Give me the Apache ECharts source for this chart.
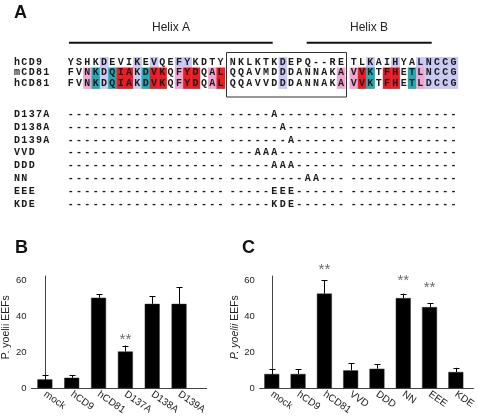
<!DOCTYPE html>
<html><head><meta charset="utf-8">
<script src="https://cdn.jsdelivr.net/npm/echarts@6/dist/echarts.min.js"></script>
<style>html,body{margin:0;padding:0;background:#fff}#c{width:478px;height:417px}</style>
</head><body><div id="c"></div>
<script>
// ---------- Panel A data ----------
const helixLabels = ['Helix A', 'Helix B'];
const seqNames = ['hCD9', 'mCD81', 'hCD81'];
const hCD9Seq  = ['YSHKDEVIKEVQEFYKDTY', 'NKLKTKDEPQ--RE', 'TLKAIHYALNCCG'];
const mCD81Seq = ['FVNKDQIAKDVKQFYDQAL', 'QQAVMDDDANNAKA', 'VVKTFHETLNCCG'];
const hCD81Seq = ['FVNKDQIAKDVKQFYDQAL', 'QQAVVDDDANNAKA', 'VVKTFHETLDCCG'];
// shading codes: l = lavender, p = pink, t = teal, r = red, . = none
const hCD9Shade  = ['....l...l.l..ll....', '......l.......', '..l..l..lllll'];
const mCD81Shade = ['..ptltrrltrr.prr.pr', '......l......p', 'prt.rr.tpllll'];
const hCD81Shade = ['..ptltrrltrr.prr.pr', '......l......p', 'prt.rr.tpllll'];
const mutantNames = ['D137A', 'D138A', 'D139A', 'VVD', 'DDD', 'NN', 'EEE', 'KDE'];
const mutantBlock1 = '-------------------';
const mutantBlock2 = ['-----A--------', '------A-------', '-------A------', '---AAA--------',
                      '-----AAA------', '---------AA---', '-----EEE------', '-----KDE------'];
const mutantBlock3 = '-------------';

// ---------- Panel B data ----------
const catsB = ['mock', 'hCD9', 'hCD81', 'D137A', 'D138A', 'D139A'];
const meanB = [5.0, 5.9, 50.4, 20.5, 47.0, 47.0];
const errB  = [2.3, 1.3, 2.1, 3.3, 4.1, 9.3];
const starCatB = [3];
const starYB   = [27.0];

// ---------- Panel C data ----------
const catsC = ['mock', 'hCD9', 'hCD81', 'VVD', 'DDD', 'NN', 'EEE', 'KDE'];
const meanC = [8.0, 8.0, 52.7, 10.0, 10.9, 50.2, 45.2, 9.1];
const errC  = [2.6, 2.6, 7.3, 4.1, 2.5, 2.5, 2.3, 2.3];
const starCatC = [2, 5, 6];
const starYC   = [65.7, 59.8, 55.9];

const yTicks = [0, 20, 40, 60];

// ---------- Layout ----------
const PITCH = 8.33, NAME_PITCH = 7.35, NAME_X = 13.3;
const blockX = [66.5, 228.5, 349.5];
const seqRowY = [62.25, 72.75, 83.25], ROW_H = 10.5;
const mutRowY0 = 114.5, mutRowStep = 12.8;
const shadeColor = {l: '#c9c9f3', p: '#f2a6d2', t: '#22aab4', r: '#ec1c24'};
const MONO = 'bold 10px "Liberation Mono", "DejaVu Sans Mono", monospace';
const SANS = '"Liberation Sans", Arial, sans-serif';

const g = [];
function addChars(str, x0, pitch, yc) {
  for (let i = 0; i < str.length; i++) {
    g.push({type: 'text', x: x0 + pitch * (i + 0.5), y: yc, z: 3,
      style: {text: str[i], font: MONO, fill: '#1a1a1a', align: 'center', verticalAlign: 'middle'}});
  }
}
function addSeqRow(name, blocks, shades, yc) {
  addChars(name, NAME_X, NAME_PITCH, yc);
  blocks.forEach((s, b) => {
    for (let i = 0; i < s.length; i++) {
      const c = shades[b][i];
      if (c !== '.') {
        g.push({type: 'rect', z: 1, shape: {x: blockX[b] + PITCH * i, y: yc - ROW_H / 2, width: PITCH + 0.4, height: ROW_H + 0.4},
          style: {fill: shadeColor[c]}});
      }
    }
    addChars(s, blockX[b], PITCH, yc);
  });
}
addSeqRow(seqNames[0], hCD9Seq, hCD9Shade, seqRowY[0]);
addSeqRow(seqNames[1], mCD81Seq, mCD81Shade, seqRowY[1]);
addSeqRow(seqNames[2], hCD81Seq, hCD81Shade, seqRowY[2]);
mutantNames.forEach((n, k) => {
  const yc = mutRowY0 + mutRowStep * k;
  addChars(n, NAME_X, NAME_PITCH, yc);
  addChars(mutantBlock1, blockX[0], PITCH, yc);
  addChars(mutantBlock2[k], blockX[1], PITCH, yc);
  addChars(mutantBlock3, blockX[2], PITCH, yc);
});
// box around loop
g.push({type: 'rect', z: 4, shape: {x: 226.5, y: 52.5, width: 120, height: 44.5}, style: {fill: 'none', stroke: '#333', lineWidth: 1}});
// helix bars & labels
g.push({type: 'line', shape: {x1: 69, y1: 42.7, x2: 272.7, y2: 42.7}, style: {stroke: '#111', lineWidth: 2}});
g.push({type: 'line', shape: {x1: 306.7, y1: 42.7, x2: 431.7, y2: 42.7}, style: {stroke: '#111', lineWidth: 2}});
g.push({type: 'text', x: 171, y: 28, style: {text: helixLabels[0], font: '12px ' + SANS, fill: '#222', align: 'center', verticalAlign: 'middle'}});
g.push({type: 'text', x: 369, y: 28, style: {text: helixLabels[1], font: '12px ' + SANS, fill: '#222', align: 'center', verticalAlign: 'middle'}});
// panel letters
[['A', 14, 4], ['B', 15, 239], ['C', 242, 239]].forEach(([t, x, y]) => {
  g.push({type: 'text', x: x, y: y, style: {text: t, font: 'bold 18px ' + SANS, fill: '#111', align: 'left', verticalAlign: 'top'}});
});

// ---------- Bar panels ----------
function xAxisFor(gi, cats, min, max) {
  return {type: 'value', gridIndex: gi, min: min, max: max,
    axisLine: {show: true, onZero: false, lineStyle: {color: '#444', width: 1}},
    axisTick: {show: false}, splitLine: {show: false},
    axisLabel: {customValues: cats.map((c, i) => i), formatter: v => cats[Math.round(v)] || '',
      rotate: -35, fontSize: 10, color: '#222', margin: 5, fontFamily: SANS}};
}
function yAxisFor(gi, nameRich) {
  return {type: 'value', gridIndex: gi, min: 0, max: 62.5,
    axisLine: {show: true, lineStyle: {color: '#444', width: 1}},
    axisTick: {show: false}, splitLine: {show: false},
    axisLabel: {customValues: yTicks, fontSize: 9.5, color: '#222', margin: 5, fontFamily: SANS},
    name: nameRich, nameLocation: 'middle', nameGap: 17,
    nameTextStyle: {fontSize: 10.5, color: '#222', fontFamily: SANS, padding: [0, 0, 0, 10],
      rich: {i: {fontStyle: 'italic', fontSize: 10.5, color: '#222', fontFamily: SANS}}}};
}
function errRender(params, api) {
  const x = api.value(0), m = api.value(1), e = api.value(2);
  const p0 = api.coord([x, m]), p1 = api.coord([x, m + e]);
  const xc = Math.round(p0[0]) + 0.5;
  return {type: 'group', children: [
    {type: 'line', shape: {x1: xc, y1: p0[1], x2: xc, y2: p1[1]}, style: {stroke: '#000', lineWidth: 1}},
    {type: 'line', shape: {x1: xc - 3, y1: Math.round(p1[1]) + 0.5, x2: xc + 3, y2: Math.round(p1[1]) + 0.5}, style: {stroke: '#000', lineWidth: 1}}
  ]};
}
function seriesFor(gi, mean, err, starCat, starY) {
  return [
    {type: 'bar', xAxisIndex: gi, yAxisIndex: gi, barWidth: 15, data: mean.map((v, i) => [i, v]),
      itemStyle: {color: '#000', borderColor: '#333', borderWidth: 0.5}, z: 2},
    {type: 'custom', xAxisIndex: gi, yAxisIndex: gi, renderItem: errRender, encode: {x: 0, y: 1},
      data: mean.map((v, i) => [i, v, err[i]]), z: 3},
    {type: 'scatter', xAxisIndex: gi, yAxisIndex: gi, clip: false, symbolSize: 1,
      itemStyle: {color: 'rgba(0,0,0,0)'}, data: starCat.map((c, k) => [c, starY[k]]),
      label: {show: true, formatter: '**', position: 'inside', fontSize: 15, color: '#444', fontFamily: SANS}, z: 4}
  ];
}

const chart = echarts.init(document.getElementById('c'), null, {renderer: 'canvas'});
chart.setOption({
  animation: false,
  backgroundColor: '#fff',
  grid: [
    {left: 31, top: 276, width: 175.7, height: 116.7},
    {left: 259.7, top: 276, width: 218.3, height: 116.7}
  ],
  xAxis: [xAxisFor(0, catsB, -0.5, 6.03), xAxisFor(1, catsC, -0.46, 7.67)],
  yAxis: [yAxisFor(0, 'P. yoelii EEFs'), yAxisFor(1, '{i|P. yoelii} EEFs')],
  series: [].concat(seriesFor(0, meanB, errB, starCatB, starYB), seriesFor(1, meanC, errC, starCatC, starYC)),
  graphic: g
});
</script></body></html>
